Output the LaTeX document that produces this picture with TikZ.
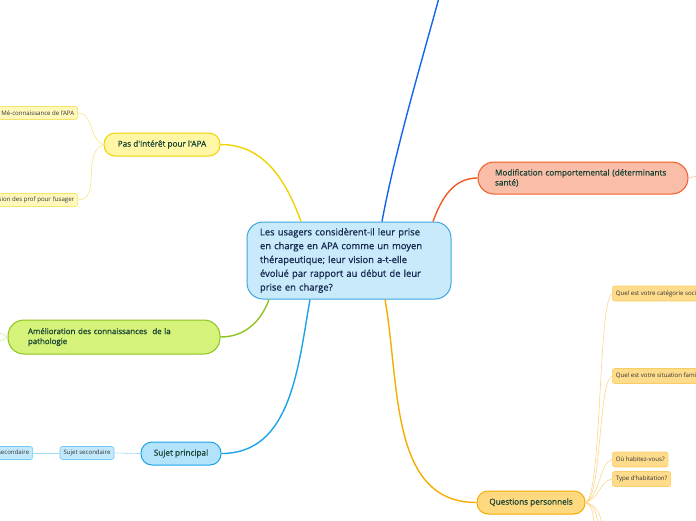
\documentclass[tikz,border=0pt]{standalone}
\usepackage{fontspec}
\setmainfont{Open Sans}
\newfontfamily\semib{Open Sans}[FakeBold=0.9]
\usepackage{tikz}
\usetikzlibrary{positioning,calc}
\definecolor{ctrfill}{HTML}{C8EAFB}
\definecolor{ctrrule}{HTML}{3DA4E0}
\definecolor{navytxt}{HTML}{172A50}
\definecolor{greentxt}{HTML}{1A4434}
\definecolor{topblue}{HTML}{1565E8}
\definecolor{orgline}{HTML}{F15A24}
\definecolor{orgfill}{HTML}{F9BDA8}
\definecolor{yelline}{HTML}{F0D200}
\definecolor{yelfill}{HTML}{FFF7A6}
\definecolor{yelleaf}{HTML}{FFF8BC}
\definecolor{yelthin}{HTML}{F5E48A}
\definecolor{grnline}{HTML}{8DC21F}
\definecolor{grnfill}{HTML}{D5F27A}
\definecolor{grnthin}{HTML}{D2EBA0}
\definecolor{bluline}{HTML}{1AA3E8}
\definecolor{blufill}{HTML}{B3E3FA}
\definecolor{bluleaf}{HTML}{C2E9FB}
\definecolor{bluthin}{HTML}{9ED9F5}
\definecolor{goldline}{HTML}{F5AC00}
\definecolor{goldfill}{HTML}{FFD97F}
\definecolor{goldleaf}{HTML}{FFDC8C}
\definecolor{goldthin}{HTML}{FAD68A}
\tikzset{
  centre/.style={rectangle,rounded corners=16pt,draw=ctrrule,line width=1pt,fill=ctrfill,text=navytxt,align=left,text width=178pt,inner xsep=13pt,minimum width=204pt,minimum height=77pt,font=\semib\fontsize{9.4}{13.8}\selectfont},
  topic/.style={rectangle,rounded corners=11pt,line width=1pt,text=greentxt,align=center,minimum height=23pt,inner xsep=4pt,font=\semib\fontsize{8.2}{10}\selectfont},
  bigtopic/.style={topic,rounded corners=16pt,align=left,text width=172pt,inner xsep=20pt},
  leaf/.style={rectangle,rounded corners=2.5pt,line width=0.6pt,text=black!80,minimum height=13pt,inner xsep=3.5pt,inner ysep=1pt,font=\fontsize{6.1}{7}\selectfont},
  branch/.style={line width=1.4pt},
  twig/.style={line width=0.6pt}
}
\begin{document}
\begin{tikzpicture}[x=1pt,y=-1pt]
  \useasboundingbox (0,0) rectangle (696,520);
  \clip (0,0) rectangle (696,520);
  % centre
  \node[centre] (ctr) at (349,260.5) {Les usagers considèrent-il leur prise\\en charge en APA comme un moyen\\thérapeutique; leur vision a-t-elle\\évolué par rapport au début de leur\\prise en charge?};
  % main topics
  \node[topic,draw=yelline,fill=yelfill,minimum width=116pt] (pas) at (162,144.5) {Pas d'intérêt pour l'APA};
  \node[bigtopic,draw=grnline,fill=grnfill,minimum height=34pt,font=\semib\fontsize{7.9}{10}\selectfont] (amel) at (114,337) {Amélioration des connaissances~ de la\\pathologie};
  \node[topic,draw=bluline,fill=blufill,minimum width=80pt] (sujp) at (181,453.5) {Sujet principal};
  \node[bigtopic,draw=orgline,fill=orgfill,minimum height=32pt,text width=176pt,inner xsep=17pt] (modc) at (583,178) {Modification comportemental (déterminants\\santé)};
  \node[topic,draw=goldline,fill=goldfill,minimum width=108pt] (qp) at (531,502.5) {Questions personnels};
  % leaves
  \node[leaf,draw=yelline!60,fill=yelleaf,anchor=east] (meco) at (78,113) {Mé-connaissance de l'APA};
  \node[leaf,draw=yelline!60,fill=yelleaf,anchor=east] (vis) at (78,200) {Vision des prof pour l'usager};
  \node[leaf,draw=bluline!60,fill=bluleaf,minimum width=54pt] (sujs) at (87,453) {Sujet secondaire};
  \node[leaf,draw=bluline!60,fill=bluleaf,anchor=east] (sujt) at (33,453) {Sujet secondaire};
  \node[leaf,draw=goldline!60,fill=goldleaf,anchor=west,minimum height=15pt] (csp) at (612,293.5) {Quel est votre catégorie socioprofessionnelle?};
  \node[leaf,draw=goldline!60,fill=goldleaf,anchor=west,minimum height=15pt] (fam) at (612,376) {Quel est votre situation familiale?};
  \node[leaf,draw=goldline!60,fill=goldleaf,anchor=west,minimum height=15pt] (hab) at (612,459.5) {Où habitez-vous?};
  \node[leaf,draw=goldline!60,fill=goldleaf,anchor=west,minimum height=15pt] (typ) at (612,479) {Type d'habitation?};
  % free ends
  \coordinate (upend) at (440,-6);
  \coordinate (redend) at (702,175);
  \coordinate (grnup) at (-3,331);
  \coordinate (grndn) at (-3,343);
  \coordinate (dn1) at (594,526);
  \coordinate (dn2) at (598,526);
  \coordinate (dn3) at (602,526);
  % branches
  \draw[branch,topblue] ([xshift=33pt]ctr.north) .. controls (395,150) and (425,50) .. (upend);
  \draw[branch,orgline] ([xshift=84pt]ctr.north) to[out=70,in=180] (modc.west);
  \draw[branch,yelline] ([xshift=-48pt]ctr.north) to[out=110,in=0] (pas.east);
  \draw[branch,grnline] ([xshift=-80pt]ctr.south) to[out=-110,in=0] (amel.east);
  \draw[branch,bluline] ([xshift=-39pt]ctr.south) to[out=-100,in=0] (sujp.east);
  \draw[branch,goldline] ([xshift=36pt]ctr.south) to[out=-80,in=180] (qp.west);
  % twigs
  \draw[twig,orgfill] (modc.east) -- (redend);
  \draw[twig,yelthin] (pas.west) to[out=160,in=0] (meco.east);
  \draw[twig,yelthin] (pas.west) to[out=200,in=0] (vis.east);
  \draw[twig,grnthin] (amel.west) -- (grnup);
  \draw[twig,grnthin] (amel.west) -- (grndn);
  \draw[twig,bluthin] (sujp.west) -- (sujs.east);
  \draw[twig,bluthin] (sujs.west) -- (sujt.east);
  \draw[twig,goldthin] (qp.east) .. controls (602,498) and (598,300) .. (csp.west);
  \draw[twig,goldthin] (qp.east) .. controls (602,498) and (598,382) .. (fam.west);
  \draw[twig,goldthin] (qp.east) .. controls (600,496) and (600,462) .. (hab.west);
  \draw[twig,goldthin] (qp.east) .. controls (600,498) and (600,481) .. (typ.west);
  \draw[twig,goldthin] (qp.east) to[out=-30,in=95] (dn1);
  \draw[twig,goldthin] (qp.east) to[out=-20,in=95] (dn2);
  \draw[twig,goldthin] (qp.east) to[out=-10,in=95] (dn3);
\end{tikzpicture}
\end{document}
